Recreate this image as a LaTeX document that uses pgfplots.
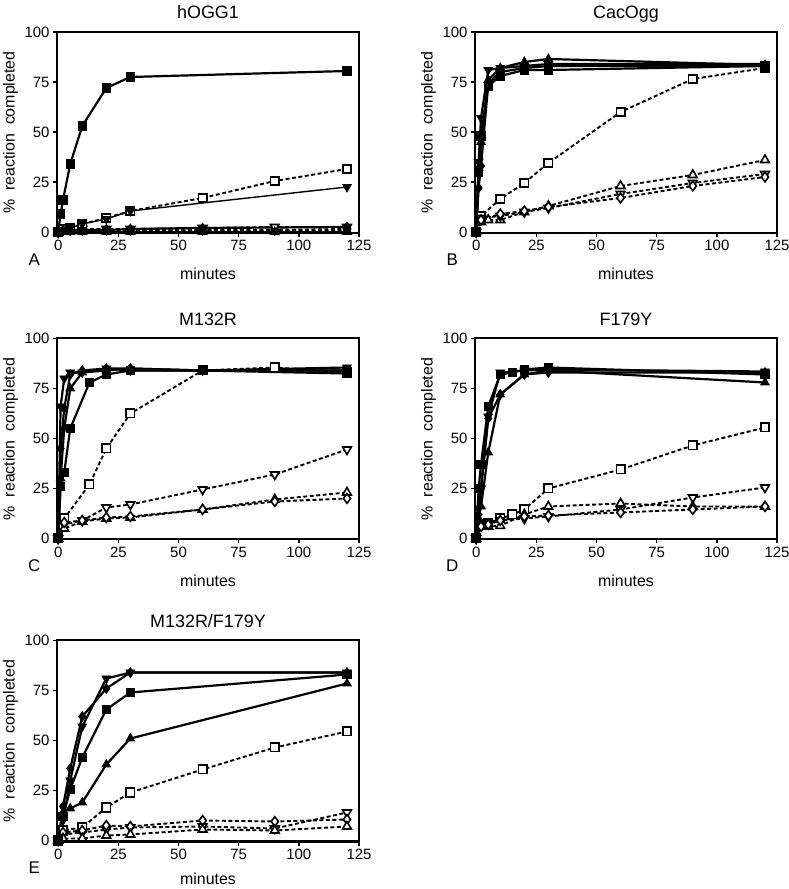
\documentclass[border=0pt]{standalone}
\usepackage{fontspec}
\setmainfont{Liberation Sans}
\usepackage{pgfplots}
\pgfplotsset{compat=1.18}
\tikzset{lett/.style={anchor=base, font=\fontsize{17}{19}\selectfont}}
\pgfplotsset{
 panel/.style={
  scale only axis, width=302bp, height=201bp,
  xmin=-0.5, xmax=125, ymin=-0.5, ymax=100,
  xtick={0,25,50,75,100,125}, ytick={0,25,50,75,100},
  tick align=outside, xtick pos=bottom, ytick pos=left,
  major tick length=4bp,
  axis line style={line width=2bp},
  every tick/.style={line width=1.4bp, black},
  tick label style={font=\fontsize{15}{17}\selectfont},
  /pgf/number format/assume math mode=true,
  clip=false,
  title style={at={(axis description cs:0.5,1.035)}, anchor=base, yshift=0pt, font=\fontsize{18}{20}\selectfont},
  xlabel={minutes},
  xlabel style={at={(axis description cs:0.5,-0.232)}, anchor=base, font=\fontsize{16}{18}\selectfont},
  ylabel={\%\ \ reaction\ \ completed},
  ylabel style={at={(axis description cs:-0.14,0.5)}, anchor=base, font=\fontsize{16}{18}\selectfont},
 },
 sq/.style={solid, line width=2.2bp, mark=square*, mark size=4.2bp, mark options={solid, fill=black, line width=0.8bp}},
 osq/.style={dash pattern=on 4bp off 2.5bp, line width=1.9bp, mark=square*, mark size=4.2bp, mark options={solid, fill=white, line width=1.6bp}},
 tr/.style={solid, line width=2.2bp, mark=triangle*, mark size=5bp, mark options={solid, fill=black, line width=0.8bp}},
 otr/.style={dash pattern=on 4bp off 2.5bp, line width=1.9bp, mark=triangle*, mark size=5bp, mark options={solid, fill=white, line width=1.6bp}},
 dt/.style={solid, line width=2.2bp, mark=triangle*, mark size=5bp, mark options={solid, fill=black, rotate=180, line width=0.8bp}},
 odt/.style={dash pattern=on 4bp off 2.5bp, line width=1.9bp, mark=triangle*, mark size=5bp, mark options={solid, fill=white, rotate=180, line width=1.6bp}},
 dm/.style={solid, line width=2.2bp, mark=diamond*, mark size=4.8bp, mark options={solid, fill=black, line width=0.8bp}},
 odm/.style={dash pattern=on 4bp off 2.5bp, line width=1.9bp, mark=diamond*, mark size=4.8bp, mark options={solid, fill=white, line width=1.6bp}},
}
\begin{document}
\begin{tikzpicture}
\useasboundingbox (0,0) rectangle (789bp,889bp);
% ---------------- A: hOGG1
\begin{axis}[panel, at={(57bp,656bp)}, anchor=south west, title={hOGG1}]
\addplot[black, otr] coordinates {(0,0)(2,0.5)(5,0.5)(10,0.5)(20,0.5)(30,0.5)(60,0.5)(90,0.5)(120,0.5)};
\addplot[black, odm] coordinates {(0,0)(2,1)(5,1)(10,1)(20,1)(30,1)(60,1)(90,1)(120,1.5)};
\addplot[black, odt] coordinates {(0,0)(2,1.5)(5,1.5)(10,1.5)(20,1.5)(30,1.5)(60,2)(90,2.5)(120,2.5)};
\addplot[black, osq] coordinates {(0,0)(1,1)(2,1.5)(5,2)(10,4)(20,7)(30,10.5)(60,17)(90,25.5)(120,31.5)};
\addplot[black, tr] coordinates {(0,0)(2,0)(5,0)(10,0)(20,0)(30,0)(60,0)(90,0)(120,0)};
\addplot[black, dm] coordinates {(0,0)(2,1)(5,1)(10,1)(20,1)(30,1.5)(60,2)(120,2.5)};
\addplot[black, dt, line width=1.4bp] coordinates {(0,0)(2,1)(5,2)(10,4)(20,6.5)(30,10.5)(120,22.5)};
\addplot[black, sq] coordinates {(0,0)(1,9)(2,16)(5,34)(10,53)(20,72)(30,77.5)(120,80.5)};
\node[lett] at (axis description cs:-0.075,-0.16) {A};
\end{axis}
% ---------------- B: CacOgg
\begin{axis}[panel, at={(475bp,656bp)}, anchor=south west, title={CacOgg}]
\addplot[black, osq] coordinates {(0,0)(2,8)(10,16.5)(20,24.5)(30,34.5)(60,60)(90,76.5)(120,82)};
\addplot[black, otr] coordinates {(0,0)(2,5)(5,6)(10,6)(20,10)(30,13)(60,23)(90,28.5)(120,36)};
\addplot[black, odt] coordinates {(0,0)(2,7)(10,8)(20,10)(30,12)(60,19)(90,24.5)(120,29)};
\addplot[black, odm] coordinates {(0,0)(2,6)(10,9)(20,10.5)(30,12.5)(60,17)(90,23)(120,27.5)};
\addplot[black, sq] coordinates {(0,0)(1,30)(2,48)(5,73)(10,78)(20,81)(30,81)(120,83)};
\addplot[black, tr] coordinates {(0,0)(1,32)(2,45)(5,76)(10,82)(20,85)(30,86.5)(120,83.5)};
\addplot[black, dt] coordinates {(0,0)(1,35)(2,57)(5,81)(10,82)(20,83)(30,84)(120,84)};
\addplot[black, dm] coordinates {(0,0)(1,22)(2,33)(5,74)(10,80)(20,82)(30,83)(120,83)};
\node[lett] at (axis description cs:-0.075,-0.16) {B};
\end{axis}
% ---------------- C: M132R
\begin{axis}[panel, at={(57bp,349.5bp)}, anchor=south west, title={M132R}]
\addplot[black, osq] coordinates {(0,0)(2.5,10)(13,27)(20,45)(30,62.5)(60,84)(90,85.5)(120,83)};
\addplot[black, odt] coordinates {(0,0)(2.5,7)(10,9)(20,15.5)(30,17)(60,24.5)(90,32)(120,44.5)};
\addplot[black, otr] coordinates {(0,0)(2.5,5)(10,8.5)(20,10)(30,10.5)(60,14.5)(90,19.5)(120,23)};
\addplot[black, odm] coordinates {(0,0)(2.5,8)(10,9)(20,10.5)(30,11)(60,14.5)(90,18.5)(120,20)};
\addplot[black, sq] coordinates {(0,0)(1,26)(2.5,33)(5,55)(13,78)(20,82)(30,84)(60,84)(120,82.5)};
\addplot[black, tr] coordinates {(0,0)(1,30)(2.5,55)(5,75)(10,83)(20,84)(30,85)(60,84)(120,84)};
\addplot[black, dt] coordinates {(0,0)(1,66)(2.5,80)(5,83)(10,83)(20,85)(30,84)(60,84)(120,85.5)};
\addplot[black, dm] coordinates {(0,0)(1,45)(2.5,65)(5,82)(10,84)(20,85)(30,85)(60,84)(120,84)};
\node[lett] at (axis description cs:-0.075,-0.16) {C};
\end{axis}
% ---------------- D: F179Y
\begin{axis}[panel, at={(475bp,349.5bp)}, anchor=south west, title={F179Y}]
\addplot[black, osq] coordinates {(0,0)(2,7)(5,7.5)(10,10)(15,12)(20,14.5)(30,25)(60,34.5)(90,46.5)(120,55.5)};
\addplot[black, odt] coordinates {(0,0)(2,8)(5,7.5)(10,9)(20,10)(30,11)(60,14.5)(90,20.5)(120,25.5)};
\addplot[black, otr] coordinates {(0,0)(2,7)(5,6)(10,6.3)(20,12)(30,16)(60,17.5)(90,16)(120,16)};
\addplot[black, odm] coordinates {(0,0)(2,6)(5,7)(10,9)(20,11)(30,11.5)(60,13)(90,14.5)(120,16)};
\addplot[black, tr] coordinates {(0,0)(1,10)(2,16)(5,43)(10,72)(20,82)(30,84)(120,78)};
\addplot[black, dm] coordinates {(0,0)(1,12)(2,25)(5,60)(10,72)(20,82)(30,83)(120,83)};
\addplot[black, dt] coordinates {(0,0)(1,15)(2,25)(5,61)(10,83)(20,84)(30,84.5)(120,83.5)};
\addplot[black, sq] coordinates {(0,0)(1,25)(2,37)(5,66)(10,82)(15,83)(20,84.5)(30,85.5)(120,82)};
\node[lett] at (axis description cs:-0.075,-0.16) {D};
\end{axis}
% ---------------- E: M132R/F179Y
\begin{axis}[panel, at={(57bp,47.5bp)}, anchor=south west, title={M132R/F179Y},
  xlabel style={at={(axis description cs:0.5,-0.212)}}]
\addplot[black, osq] coordinates {(0,0)(2,5)(10,6.5)(20,16.5)(30,24)(60,35.5)(90,46.5)(120,54.5)};
\addplot[black, odt] coordinates {(0,0)(2,3)(10,4)(20,5.5)(30,6.5)(60,7)(90,6)(120,14)};
\addplot[black, odm] coordinates {(0,0)(2,4)(10,5)(20,7.5)(30,7)(60,10)(90,9.5)(120,10.5)};
\addplot[black, otr] coordinates {(0,0)(2,1)(10,1)(20,2.5)(30,3)(60,5.5)(90,5)(120,7)};
\addplot[black, tr] coordinates {(0,0)(2,14)(5,16)(10,19)(20,38)(30,51)(120,78.5)};
\addplot[black, sq] coordinates {(0,0)(2,12)(5,25.5)(10,41.5)(20,65.5)(30,74)(120,83)};
\addplot[black, dt] coordinates {(0,0)(2,10)(5,30)(10,57)(20,81)(30,84)(120,84)};
\addplot[black, dm] coordinates {(0,0)(2,17)(5,36)(10,62)(20,76)(30,84)(120,84)};
\node[lett] at (axis description cs:-0.075,-0.16) {E};
\end{axis}
\end{tikzpicture}
\end{document}
